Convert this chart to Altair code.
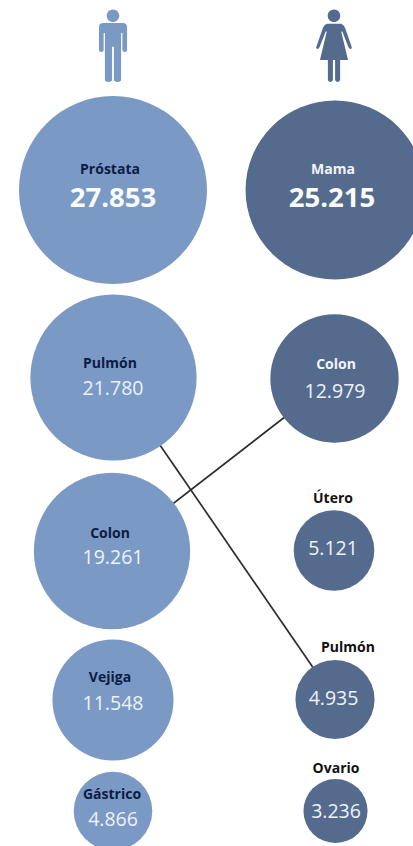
import altair as alt
import pandas as pd

# Tumour incidence by sex: men in the left column, women in the right
tumores = ["Próstata", "Pulmón", "Colon", "Vejiga", "Gástrico",
           "Mama", "Colon", "Útero", "Pulmón", "Ovario"]
casos = [27853, 21780, 19261, 11548, 4866,
         25215, 12979, 5121, 4935, 3236]
sexo = ["Hombres"] * 5 + ["Mujeres"] * 5
columna = [113, 113.5, 112, 113, 113, 335, 334.5, 334, 335, 335.5]
fila = [190, 377.5, 551, 700, 811, 190, 378.5, 550.5, 699.5, 811]
columna_nombre = [110, 110, 110, 110, 112, 333, 336, 333, 348, 336]
fila_nombre = [169, 362.5, 533, 677, 794, 169, 364, 498, 647, 768]
columna_cifra = [113, 113, 113, 113, 113, 332, 335, 333, 333.5, 336]
fila_cifra = [199, 388, 557, 703, 819, 199, 391, 548, 698, 811]
estilo_nombre = ["oscuro"] * 5 + ["claro", "claro", "negro", "negro", "negro"]

HOMBRE = "#7a99c5"
MUJER = "#546b8e"

df = pd.DataFrame({
    "tumor": tumores, "casos": casos, "sexo": sexo, "x": columna, "y": fila,
    "x_nombre": columna_nombre, "y_nombre": fila_nombre,
    "x_cifra": columna_cifra, "y_cifra": fila_cifra, "estilo": estilo_nombre,
})
df["cifra"] = [f"{v:,}".replace(",", ".") for v in casos]

eje_x = alt.Scale(domain=[0, 413], nice=False, zero=False)
eje_y = alt.Scale(domain=[846, 0], nice=False, zero=False)
x = alt.X("x:Q", axis=None, scale=eje_x)
y = alt.Y("y:Q", axis=None, scale=eje_y)

# Circle area is proportional to the number of cases
area = alt.Size("casos:Q", legend=None,
                scale=alt.Scale(domain=[0, 27853], range=[0, 35344], zero=True))
color = alt.Color("sexo:N", legend=None,
                  scale=alt.Scale(domain=["Hombres", "Mujeres"], range=[HOMBRE, MUJER]))

# Lines joining the same tumour across both columns, centre to centre
enlaces = (
    alt.Chart(df)
    .transform_filter(alt.FieldOneOfPredicate(field="tumor", oneOf=["Pulmón", "Colon"]))
    .mark_line(color="#2c2c2c", strokeWidth=1.7)
    .encode(x=x, y=y, detail="tumor:N", order="sexo:N")
)

circulos = (
    alt.Chart(df)
    .mark_circle(opacity=1)
    .encode(x=x, y=y, size=area, color=color)
)

nombres = (
    alt.Chart(df)
    .mark_text(font="Open Sans", fontWeight="bold", fontSize=14, align="center",
               baseline="middle", dy=1)
    .encode(
        x=alt.X("x_nombre:Q", axis=None, scale=eje_x),
        y=alt.Y("y_nombre:Q", axis=None, scale=eje_y),
        text="tumor:N",
        color=alt.Color("estilo:N", legend=None,
                        scale=alt.Scale(domain=["oscuro", "claro", "negro"],
                                        range=["#0e1c45", "#f2f4f8", "#111111"])),
    )
)

principales = df["casos"] > 25000
pos_cifra = dict(
    x=alt.X("x_cifra:Q", axis=None, scale=eje_x),
    y=alt.Y("y_cifra:Q", axis=None, scale=eje_y),
    text="cifra:N",
)
cifras = (
    alt.Chart(df[~principales])
    .mark_text(font="Open Sans", fontSize=19.5, color="#edf2f9", align="center",
               baseline="middle", dy=0.5)
    .encode(**pos_cifra)
)
cifras_top = (
    alt.Chart(df[principales])
    .mark_text(font="Open Sans", fontWeight="bold", fontSize=27.5, color="#fafbfd",
               align="center", baseline="middle")
    .encode(**pos_cifra)
)

# Pictograms above each column
CABEZA = "M-.175,-.84A.175,.175 0 1 1 .175,-.84A.175,.175 0 1 1 -.175,-.84Z"
FIGURA_H = (
    CABEZA
    + "M-.27,-.64L.27,-.64Q.39,-.64 .39,-.52L.39,.11Q.39,.17 .325,.17Q.26,.17 .26,.11"
      "L.26,-.36L.225,-.36L.225,.94Q.225,1 .125,1Q.025,1 .025,.94L.025,.02L-.025,.02L-.025,.94"
      "Q-.025,1 -.125,1Q-.225,1 -.225,.94L-.225,-.36L-.26,-.36L-.26,.11Q-.26,.17 -.325,.17"
      "Q-.39,.17 -.39,.11L-.39,-.52Q-.39,-.64 -.27,-.64Z"
)
FIGURA_M = (
    CABEZA
    + "M-.2,-.62L.2,-.62Q.27,-.6 .31,-.5L.49,.02Q.51,.08 .45,.08Q.42,.08 .40,.03L.23,-.40"
      "L.20,-.40L.39,.39L.17,.39L.17,.94Q.17,1 .10,1Q.03,1 .03,.94L.03,.39L-.03,.39L-.03,.94"
      "Q-.03,1 -.10,1Q-.17,1 -.17,.94L-.17,.39L-.39,.39L-.20,-.40L-.23,-.40L-.40,.03"
      "Q-.42,.08 -.45,.08Q-.51,.08 -.49,.02L-.31,-.5Q-.27,-.6 -.2,-.62Z"
)
figuras = pd.DataFrame({"x": [113, 334], "y": [46, 46]})
icono_h = alt.Chart(figuras.iloc[[0]]).mark_point(
    shape=FIGURA_H, size=5184, filled=True, color=HOMBRE, opacity=1, strokeWidth=0
).encode(x=x, y=y)
icono_m = alt.Chart(figuras.iloc[[1]]).mark_point(
    shape=FIGURA_M, size=5184, filled=True, color=MUJER, opacity=1, strokeWidth=0
).encode(x=x, y=y)

chart = (
    alt.layer(enlaces, circulos, nombres, cifras, cifras_top, icono_h, icono_m)
    .resolve_scale(color="independent")
    .properties(width=413, height=846, padding=0,
                autosize=alt.AutoSizeParams(type="none"),
                background="white")
    .configure_view(stroke=None)
)

chart.save("out.html", embed_options={"renderer": "svg", "actions": False})
